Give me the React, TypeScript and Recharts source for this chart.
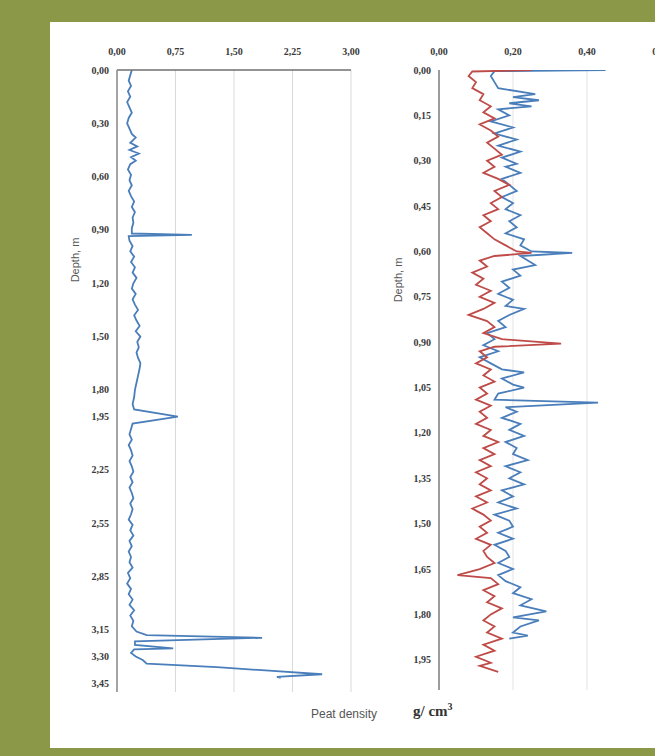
import React from 'react';
import { LineChart, Line, XAxis, YAxis, CartesianGrid } from 'recharts';

// ---- Core 1 (left panel) ----
const core1Depth = [
  0.00, 0.03, 0.06, 0.09, 0.12, 0.15, 0.18, 0.21, 0.24, 0.27, 0.30, 0.33, 0.36, 0.38, 0.41, 0.43, 0.45, 0.47, 0.49, 0.51,
  0.53, 0.56, 0.59, 0.62, 0.65, 0.68, 0.71, 0.74, 0.77, 0.80, 0.83, 0.86, 0.89, 0.92, 0.928, 0.935, 0.96, 0.99, 1.02, 1.05,
  1.08, 1.11, 1.14, 1.17, 1.20, 1.23, 1.26, 1.29, 1.32, 1.35, 1.38, 1.41, 1.44, 1.47, 1.50, 1.53, 1.56, 1.59, 1.62, 1.65,
  1.68, 1.72, 1.76, 1.80, 1.84, 1.88, 1.91, 1.95, 1.99, 2.02, 2.05, 2.08, 2.11, 2.14, 2.17, 2.20, 2.23, 2.26, 2.29, 2.32,
  2.35, 2.38, 2.41, 2.44, 2.47, 2.50, 2.53, 2.56, 2.59, 2.62, 2.65, 2.68, 2.71, 2.74, 2.77, 2.80, 2.83, 2.86, 2.89, 2.92,
  2.95, 2.98, 3.01, 3.04, 3.07, 3.10, 3.13, 3.16, 3.18, 3.195, 3.215, 3.235, 3.255, 3.26, 3.28, 3.30, 3.32, 3.34, 3.36, 3.38,
  3.40, 3.415, 3.42,
];
const core1Density = [
  0.19, 0.17, 0.15, 0.18, 0.14, 0.17, 0.13, 0.16, 0.19, 0.15, 0.13, 0.16, 0.19, 0.24, 0.17, 0.26, 0.16, 0.28, 0.18, 0.24,
  0.17, 0.14, 0.18, 0.16, 0.19, 0.15, 0.18, 0.22, 0.19, 0.23, 0.20, 0.21, 0.19, 0.19, 0.96, 0.15, 0.16, 0.20, 0.17, 0.22,
  0.18, 0.23, 0.20, 0.25, 0.21, 0.19, 0.24, 0.20, 0.23, 0.27, 0.22, 0.25, 0.29, 0.24, 0.30, 0.26, 0.28, 0.25, 0.27, 0.30,
  0.29, 0.27, 0.25, 0.23, 0.22, 0.20, 0.22, 0.78, 0.20, 0.18, 0.16, 0.19, 0.15, 0.18, 0.20, 0.16, 0.19, 0.21, 0.17, 0.20,
  0.16, 0.19, 0.21, 0.17, 0.20, 0.18, 0.15, 0.20, 0.17, 0.21, 0.16, 0.19, 0.15, 0.18, 0.16, 0.20, 0.14, 0.17, 0.13, 0.18,
  0.15, 0.20, 0.16, 0.22, 0.17, 0.21, 0.19, 0.25, 0.38, 1.86, 0.23, 0.23, 0.72, 0.22, 0.18, 0.24, 0.33, 0.38, 1.28, 1.95,
  2.63, 2.05, 2.10,
];
const core1DepthTicks = [0, 0.3, 0.6, 0.9, 1.2, 1.5, 1.8, 1.95, 2.25, 2.55, 2.85, 3.15, 3.3, 3.45];
const core1DensityTicks = [0, 0.75, 1.5, 2.25, 3.0];

// ---- Core 2 (right panel) ----
const blueDepth = [
  0.000, 0.004, 0.02, 0.04, 0.06, 0.08, 0.09, 0.10, 0.11, 0.12, 0.13, 0.15, 0.17, 0.19, 0.21, 0.23, 0.25, 0.27, 0.29, 0.31,
  0.32, 0.34, 0.36, 0.38, 0.40, 0.42, 0.44, 0.46, 0.48, 0.50, 0.52, 0.54, 0.56, 0.58, 0.60, 0.605, 0.615, 0.63, 0.645, 0.66,
  0.68, 0.70, 0.72, 0.74, 0.76, 0.78, 0.79, 0.81, 0.83, 0.85, 0.87, 0.89, 0.91, 0.93, 0.95, 0.97, 0.99, 1.00, 1.02, 1.04,
  1.05, 1.07, 1.09, 1.10, 1.115, 1.13, 1.15, 1.17, 1.19, 1.21, 1.23, 1.25, 1.27, 1.29, 1.31, 1.33, 1.35, 1.37, 1.39, 1.41,
  1.43, 1.45, 1.47, 1.49, 1.51, 1.53, 1.55, 1.57, 1.59, 1.61, 1.63, 1.65, 1.67, 1.69, 1.71, 1.73, 1.75, 1.77, 1.79, 1.81,
  1.82, 1.84, 1.86, 1.87, 1.88,
];
const blueDensity = [
  0.45, 0.15, 0.14, 0.15, 0.16, 0.26, 0.20, 0.27, 0.19, 0.25, 0.16, 0.19, 0.14, 0.20, 0.15, 0.21, 0.16, 0.22, 0.17, 0.21,
  0.18, 0.22, 0.17, 0.19, 0.21, 0.17, 0.20, 0.18, 0.22, 0.19, 0.21, 0.18, 0.23, 0.22, 0.25, 0.36, 0.22, 0.24, 0.26, 0.20,
  0.22, 0.17, 0.19, 0.16, 0.20, 0.18, 0.23, 0.19, 0.16, 0.18, 0.13, 0.15, 0.12, 0.16, 0.11, 0.14, 0.17, 0.23, 0.17, 0.20,
  0.23, 0.16, 0.15, 0.43, 0.18, 0.21, 0.17, 0.22, 0.19, 0.23, 0.18, 0.21, 0.20, 0.24, 0.18, 0.22, 0.19, 0.23, 0.17, 0.20,
  0.16, 0.21, 0.15, 0.19, 0.20, 0.16, 0.20, 0.15, 0.18, 0.19, 0.16, 0.20, 0.16, 0.18, 0.22, 0.20, 0.25, 0.22, 0.29, 0.20,
  0.27, 0.22, 0.20, 0.24, 0.19,
];
const redDepth = [
  0.000, 0.005, 0.02, 0.04, 0.06, 0.08, 0.10, 0.12, 0.14, 0.16, 0.18, 0.20, 0.22, 0.24, 0.26, 0.28, 0.30, 0.32, 0.34, 0.36,
  0.38, 0.40, 0.42, 0.44, 0.46, 0.48, 0.50, 0.52, 0.54, 0.56, 0.58, 0.60, 0.605, 0.615, 0.63, 0.65, 0.67, 0.69, 0.71, 0.73,
  0.75, 0.77, 0.79, 0.81, 0.83, 0.85, 0.87, 0.89, 0.905, 0.915, 0.93, 0.95, 0.97, 0.99, 1.01, 1.03, 1.05, 1.07, 1.09, 1.11,
  1.13, 1.15, 1.17, 1.19, 1.21, 1.23, 1.25, 1.27, 1.29, 1.31, 1.33, 1.35, 1.37, 1.39, 1.41, 1.43, 1.45, 1.47, 1.49, 1.51,
  1.53, 1.55, 1.57, 1.59, 1.61, 1.63, 1.65, 1.67, 1.68, 1.70, 1.72, 1.74, 1.76, 1.78, 1.80, 1.82, 1.84, 1.86, 1.88, 1.90,
  1.92, 1.94, 1.96, 1.97, 1.99,
];
const redDensity = [
  0.25, 0.09, 0.08, 0.10, 0.09, 0.12, 0.11, 0.14, 0.12, 0.15, 0.11, 0.14, 0.16, 0.13, 0.15, 0.17, 0.13, 0.15, 0.12, 0.16,
  0.19, 0.15, 0.17, 0.14, 0.16, 0.12, 0.14, 0.11, 0.13, 0.15, 0.18, 0.21, 0.25, 0.15, 0.11, 0.13, 0.09, 0.12, 0.10, 0.14,
  0.11, 0.15, 0.12, 0.08, 0.13, 0.15, 0.12, 0.17, 0.33, 0.15, 0.11, 0.13, 0.10, 0.14, 0.12, 0.15, 0.11, 0.13, 0.10, 0.14,
  0.11, 0.13, 0.10, 0.14, 0.12, 0.16, 0.12, 0.15, 0.11, 0.14, 0.10, 0.13, 0.11, 0.14, 0.10, 0.13, 0.09, 0.12, 0.14, 0.11,
  0.13, 0.10, 0.14, 0.12, 0.13, 0.15, 0.11, 0.05, 0.14, 0.16, 0.12, 0.15, 0.13, 0.17, 0.14, 0.12, 0.15, 0.13, 0.17, 0.12,
  0.15, 0.10, 0.14, 0.11, 0.16,
];
const core2DepthTicks = [0, 0.15, 0.3, 0.45, 0.6, 0.75, 0.9, 1.05, 1.2, 1.35, 1.5, 1.65, 1.8, 1.95];
const core2DensityTicks = [0, 0.2, 0.4, 0.6];

const core1Data = core1Depth.map((d, i) => ({ d, v: core1Density[i] }));

const core2Map = new Map<number, any>();
blueDepth.forEach((d, i) => {
  const r = core2Map.get(d) || { d };
  r.blue = blueDensity[i];
  core2Map.set(d, r);
});
redDepth.forEach((d, i) => {
  const r = core2Map.get(d) || { d };
  r.red = redDensity[i];
  core2Map.set(d, r);
});
const core2Data = Array.from(core2Map.values()).sort((a, b) => a.d - b.d);

const fmt = (v: number) => v.toFixed(2).replace('.', ',');
const tickStyle = { fontFamily: '"Liberation Serif", "Times New Roman", serif', fontSize: 10, fontWeight: 700, fill: '#3a3a3a' };
const BLUE = '#4A7EBB';
const RED = '#BE4B48';

export default function App() {
  return (
    <div style={{ position: 'fixed', left: 0, top: 0, width: 655, height: 756, background: '#8a9848', overflow: 'hidden' }}>
      <div style={{ position: 'absolute', left: 50, top: 22, width: 605, height: 726, background: '#ffffff' }} />

      <div style={{ position: 'absolute', left: 0, top: 0 }}>
        <LineChart
          width={370}
          height={697}
          layout="vertical"
          data={core1Data}
          margin={{ top: 50, right: 19, bottom: 5, left: 77 }}
        >
          <CartesianGrid horizontal={false} vertical stroke="#d9d9d9" />
          <XAxis
            type="number"
            orientation="top"
            domain={[0, 3]}
            ticks={core1DensityTicks}
            tickFormatter={fmt}
            tick={tickStyle}
            tickLine={false}
            tickMargin={9}
            height={20}
            axisLine={{ stroke: '#6f6f6f', strokeWidth: 1.5 }}
            allowDataOverflow
          />
          <YAxis
            type="number"
            dataKey="d"
            domain={[0, 3.5]}
            ticks={core1DepthTicks}
            tickFormatter={fmt}
            tick={tickStyle}
            tickLine={false}
            width={40}
            interval={0}
            axisLine={{ stroke: '#8c8c8c', strokeWidth: 1.5 }}
            allowDataOverflow
          />
          <Line dataKey="v" stroke={BLUE} strokeWidth={1.8} dot={false} isAnimationActive={false} />
        </LineChart>
      </div>

      <div style={{ position: 'absolute', left: 370, top: 0 }}>
        <LineChart
          width={301}
          height={695}
          layout="vertical"
          data={core2Data}
          margin={{ top: 50, right: 10, bottom: 5, left: 29 }}
        >
          <CartesianGrid horizontal={false} vertical stroke="#e3e3e3" />
          <XAxis
            type="number"
            orientation="top"
            domain={[0, 0.6]}
            ticks={core2DensityTicks}
            tickFormatter={fmt}
            tick={tickStyle}
            tickLine={false}
            tickMargin={9}
            height={20}
            axisLine={false}
            allowDataOverflow
          />
          <YAxis
            type="number"
            dataKey="d"
            domain={[0, 2.05]}
            ticks={core2DepthTicks}
            tickFormatter={fmt}
            tick={tickStyle}
            tickLine={false}
            width={40}
            interval={0}
            axisLine={{ stroke: '#7f7f7f', strokeWidth: 1.5 }}
            allowDataOverflow
          />
          <Line dataKey="blue" stroke={BLUE} strokeWidth={1.8} dot={false} connectNulls isAnimationActive={false} />
          <Line dataKey="red" stroke={RED} strokeWidth={1.8} dot={false} connectNulls isAnimationActive={false} />
        </LineChart>
      </div>

      <div style={{ position: 'absolute', left: 75, top: 260, width: 0, height: 0 }}>
        <div style={{ position: 'absolute', transform: 'translate(-50%, -50%) rotate(-90deg)', whiteSpace: 'nowrap', fontFamily: '"Liberation Sans", Arial, sans-serif', fontSize: 11, color: '#595959' }}>
          Depth, m
        </div>
      </div>
      <div style={{ position: 'absolute', left: 398, top: 280, width: 0, height: 0 }}>
        <div style={{ position: 'absolute', transform: 'translate(-50%, -50%) rotate(-90deg)', whiteSpace: 'nowrap', fontFamily: '"Liberation Sans", Arial, sans-serif', fontSize: 11, color: '#595959' }}>
          Depth, m
        </div>
      </div>

      <div style={{ position: 'absolute', left: 311, top: 707, fontFamily: '"Liberation Sans", Arial, sans-serif', fontSize: 12, color: '#555555', whiteSpace: 'nowrap' }}>
        Peat density
      </div>
      <div style={{ position: 'absolute', left: 413, top: 701, fontFamily: '"Liberation Serif", "Times New Roman", serif', fontSize: 15, fontWeight: 700, color: '#333333', whiteSpace: 'nowrap' }}>
        g/ cm<sup style={{ fontSize: 10 }}>3</sup>
      </div>
    </div>
  );
}
